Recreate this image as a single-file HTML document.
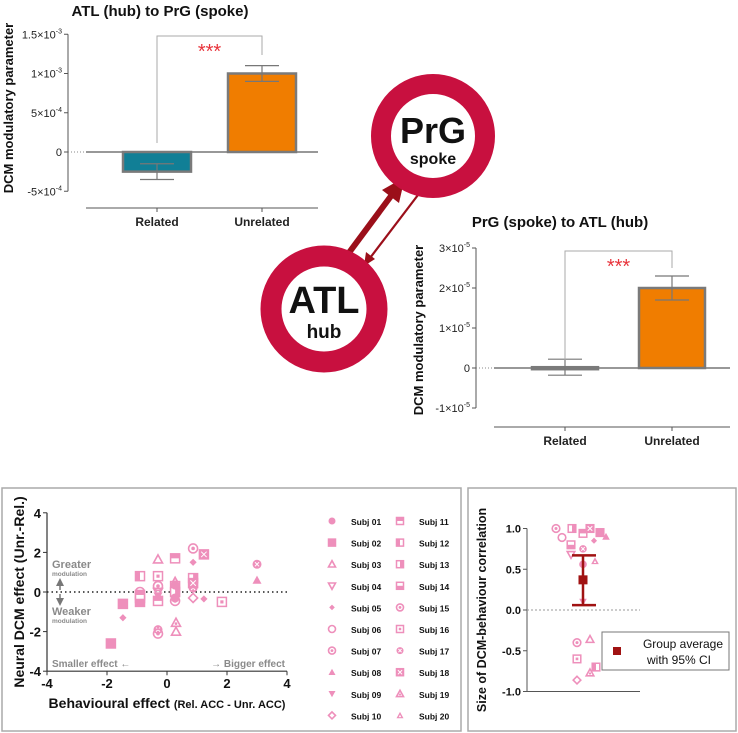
<!DOCTYPE html>
<html><head><meta charset="utf-8"><style>
html,body{margin:0;padding:0;background:#fff;}
svg{display:block;font-family:"Liberation Sans",Arial,sans-serif;}
</style></head><body>
<svg id="fig" width="738" height="733" viewBox="0 0 738 733" xmlns="http://www.w3.org/2000/svg">
<!-- Panel boxes -->
<rect x="2" y="488" width="459" height="243" fill="none" stroke="#aaa" stroke-width="1.5"/>
<rect x="468" y="488" width="268" height="243" fill="none" stroke="#aaa" stroke-width="1.5"/>

<!-- Hub / spoke diagram -->
<g>
  <line x1="348" y1="254" x2="394" y2="192" stroke="#9b0f1a" stroke-width="6"/>
  <polygon points="405,177 382,190 399,203" fill="#9b0f1a"/>
  <line x1="421" y1="191" x2="370" y2="258" stroke="#9b0f1a" stroke-width="2.2"/>
  <polygon points="364,266 366,252 375,259" fill="#9b0f1a"/>
  <circle cx="433" cy="136" r="52" fill="#fff" stroke="#c8103f" stroke-width="20"/>
  <text x="433" y="143" text-anchor="middle" font-size="36" font-weight="bold" fill="#111">PrG</text>
  <text x="433" y="164" text-anchor="middle" font-size="16" font-weight="bold" fill="#111">spoke</text>
  <circle cx="324" cy="309" r="53" fill="#fff" stroke="#c8103f" stroke-width="21"/>
  <text x="324" y="313" text-anchor="middle" font-size="38" font-weight="bold" fill="#111">ATL</text>
  <text x="324" y="338" text-anchor="middle" font-size="19" font-weight="bold" fill="#111">hub</text>
</g>

<g id="bar1"></g>
<g id="bar2"></g>
<g id="scatter"></g>
<g id="legend"></g>
<g id="corr"></g>
</svg>
<script>
// ---- Bar chart data ----
const barCategories = ["Related", "Unrelated"];
const bar1Means = [-0.25e-3, 1.0e-3];
const bar1Sem = [0.1e-3, 0.1e-3];
const bar1Ticks = [1.5e-3, 1e-3, 5e-4, 0, -5e-4];
const bar1TickLabels = [["1.5","-3"], ["1","-3"], ["5","-4"], ["0",""], ["-5","-4"]];
const bar2Means = [0.02e-5, 2.0e-5];
const bar2Sem = [0.2e-5, 0.3e-5];
const bar2Ticks = [3e-5, 2e-5, 1e-5, 0, -1e-5];
const bar2TickLabels = [["3","-5"], ["2","-5"], ["1","-5"], ["0",""], ["-1","-5"]];

// ---- Scatter data (x, y, subject) ----
const scatterX = [-0.3, 0.27, 0.87, 1.23, 0.87, 3.0, 3.0, -0.9, -0.3, -0.3, 0.27, 0.27, 0.27, 0.27, 0.87, 0.87, 0.87, 1.23, 1.83, -1.47, -0.9, -0.9, -0.9, -0.3, -0.3, 0.27, -1.47, -1.87, -0.3, -0.3, 0.3, 0.3, 0.27, 0.87, -0.9, -0.3];
const scatterY = [1.65, 1.7, 2.2, 1.9, 1.5, 1.4, 0.6, 0.8, 0.8, 0.3, 0.6, 0.3, 0.0, -0.3, 0.7, 0.2, -0.3, -0.35, -0.5, -0.6, 0.0, -0.3, -0.5, -0.2, -0.45, -0.45, -1.3, -2.6, -1.9, -2.1, -1.55, -2.0, 0.35, 0.45, -0.15, 0.0];
const scatterSubj = [3, 11, 7, 18, 5, 17, 8, 12, 16, 15, 20, 14, 13, 1, 13, 17, 10, 5, 16, 2, 6, 14, 2, 9, 11, 15, 5, 2, 17, 7, 19, 3, 1, 18, 11, 4];
const scatterXTicks = [-4, -2, 0, 2, 4];
const scatterYTicks = [4, 2, 0, -2, -4];

// ---- Correlation data ----
const corrValues = [1.0, 0.89, 1.0, 0.94, 1.0, 0.95, 0.85, 0.9, 0.8, 0.75, 0.68, 0.6, 0.56, 0.1, -0.4, -0.36, -0.6, -0.7, -0.77, -0.86];
const corrSubj = [7, 6, 13, 11, 18, 2, 5, 8, 14, 17, 4, 20, 1, 9, 15, 3, 16, 12, 19, 10];
const corrJitter = [-27, -21, -11, 0, 7, 17, 11, 23, -12, 0, -12, 12, 0, 0, -6, 7, -6, 13, 7, -6];
const corrMean = 0.37;
const corrCI = [0.06, 0.67];
const corrTicks = [1.0, 0.5, 0.0, -0.5, -1.0];

const NS = "http://www.w3.org/2000/svg";
const PINK = "#ee8fbb";
function el(parent, tag, attrs, text) {
  const e = document.createElementNS(NS, tag);
  for (const k in attrs) e.setAttribute(k, attrs[k]);
  if (text !== undefined) e.textContent = text;
  parent.appendChild(e);
  return e;
}

function barChart(g, cfg) {
  const y = v => cfg.y0 - v * cfg.scale;
  const ax = el(g, "line", {x1: cfg.axX, y1: y(cfg.ticks[0]), x2: cfg.axX, y2: y(cfg.ticks[cfg.ticks.length-1]), stroke: "#555", "stroke-width": 1});
  
  
  cfg.ticks.forEach((t, i) => {
    el(g, "line", {x1: cfg.axX - 4, y1: y(t), x2: cfg.axX, y2: y(t), stroke: "#555"});
    const tx = el(g, "text", {x: cfg.axX - 6, y: y(t) + 4, "text-anchor": "end", "font-size": 11, fill: "#222"});
    
    
    const lab = cfg.tickLabels[i];
    if (lab[1] === "") { tx.textContent = lab[0]; }
    else {
      el(tx, "tspan", {}, lab[0] + "\u00d710");
      el(tx, "tspan", {"font-size": 7, dy: -5}, lab[1]);
    }
  });
  // zero line
  el(g, "line", {x1: cfg.axX, y1: y(0), x2: cfg.plotX0, y2: y(0), stroke: "#888", "stroke-dasharray": "1,2"});
  const zl = el(g, "line", {x1: cfg.plotX0, y1: y(0), x2: cfg.plotX1, y2: y(0), stroke: "#777", "stroke-width": 1.5});
  
  
  // x axis
  const xa = el(g, "line", {x1: cfg.plotX0, y1: cfg.xAxisY, x2: cfg.plotX1, y2: cfg.xAxisY, stroke: "#555"});
  
  
  const colors = ["#117f96", "#f07d00"];
  barCategories.forEach((c, i) => {
    const cx = cfg.xs[i];
    el(g, "line", {x1: cx, y1: cfg.xAxisY, x2: cx, y2: cfg.xAxisY + 4, stroke: "#555"});
    const lt = el(g, "text", {x: cx, y: cfg.xAxisY + 18, "text-anchor": "middle", "font-size": 12, "font-weight": "bold", fill: "#222"}, c);
    
    
    const m = cfg.means[i], s = cfg.sem[i];
    const top = Math.min(y(m), y(0)), h = Math.max(Math.abs(y(m) - y(0)), 2);
    const b = el(g, "rect", {x: cx - cfg.bw/2, y: top, width: cfg.bw, height: h, fill: colors[i], stroke: "#7a7a7a", "stroke-width": 2.5});
    
    
    const e1 = y(m + s), e2 = y(m - s);
    const eb = el(g, "path", {d: `M${cx},${e1}V${e2}M${cx-17},${e1}H${cx+17}M${cx-17},${e2}H${cx+17}`, stroke: "#777", fill: "none", "stroke-width": 1.2});
    
    
  });
  const br = el(g, "path", {d: `M${cfg.xs[0]},${cfg.brLeft}V${cfg.brY}H${cfg.xs[1]}V${cfg.brRight}`, stroke: "#aaa", fill: "none"});
  
  
  const st = el(g, "text", {x: (cfg.xs[0]+cfg.xs[1])/2, y: cfg.brY + 22, "text-anchor": "middle", "font-size": 20, fill: "#e8343c"}, "***");
  
  
  const ti = el(g, "text", {x: cfg.titleX, y: cfg.titleY, "text-anchor": "middle", "font-size": 15, "font-weight": "bold", fill: "#111"}, cfg.title);
  
  
  const yt = el(g, "text", {x: 0, y: 0, transform: `translate(${cfg.ylabX},${cfg.ylabY}) rotate(-90)`, "text-anchor": "middle", "font-size": 13, "font-weight": "bold", fill: "#111"}, "DCM modulatory parameter");
  
  
}

barChart(document.getElementById("bar1"), {y0: 152, scale: 78.5 / 1e-3, axX: 68, plotX0: 86, plotX1: 318, xAxisY: 208, xs: [157, 262], bw: 68,
  means: bar1Means, sem: bar1Sem, ticks: bar1Ticks, tickLabels: bar1TickLabels, brY: 36, brLeft: 143, brRight: 55,
  title: "ATL (hub) to PrG (spoke)", titleX: 160, titleY: 16, ylabX: 13, ylabY: 108});
barChart(document.getElementById("bar2"), {y0: 368, scale: 40 / 1e-5, axX: 476, plotX0: 494, plotX1: 730, xAxisY: 427, xs: [565, 672], bw: 66,
  means: bar2Means, sem: bar2Sem, ticks: bar2Ticks, tickLabels: bar2TickLabels, brY: 251, brLeft: 360, brRight: 268,
  title: "PrG (spoke) to ATL (hub)", titleX: 560, titleY: 227, ylabX: 423, ylabY: 330});

// ---- Markers ----
function marker(g, s, x, y, r) {
  const c = PINK;
  const grp = el(g, "g", {});
  const tri = (up) => up ? `${x},${y-r} ${x+r},${y+r*0.8} ${x-r},${y+r*0.8}` : `${x},${y+r} ${x+r},${y-r*0.8} ${x-r},${y-r*0.8}`;
  const sq = (f) => el(grp, "rect", {x: x-r, y: y-r, width: 2*r, height: 2*r, fill: f ? c : "#fff", stroke: c, "stroke-width": 1.5});
  switch (s) {
    case 1: el(grp, "circle", {cx: x, cy: y, r: r, fill: c}); break;
    case 2: sq(true); break;
    case 3: el(grp, "polygon", {points: tri(true), fill: "none", stroke: c, "stroke-width": 1.6}); break;
    case 4: el(grp, "polygon", {points: tri(false), fill: "none", stroke: c, "stroke-width": 1.6}); break;
    case 5: el(grp, "polygon", {points: `${x},${y-r*0.8} ${x+r*0.8},${y} ${x},${y+r*0.8} ${x-r*0.8},${y}`, fill: c}); break;
    case 6: el(grp, "circle", {cx: x, cy: y, r: r, fill: "none", stroke: c, "stroke-width": 1.6}); break;
    case 7: case 15: el(grp, "circle", {cx: x, cy: y, r: r, fill: "none", stroke: c, "stroke-width": 1.6}); el(grp, "circle", {cx: x, cy: y, r: r*0.4, fill: c}); break;
    case 8: el(grp, "polygon", {points: tri(true), fill: c}); break;
    case 9: el(grp, "polygon", {points: tri(false), fill: c}); break;
    case 10: el(grp, "polygon", {points: `${x},${y-r} ${x+r},${y} ${x},${y+r} ${x-r},${y}`, fill: "none", stroke: c, "stroke-width": 1.6}); break;
    case 11: sq(false); el(grp, "rect", {x: x-r, y: y-r, width: 2*r, height: r, fill: c}); break;
    case 12: sq(false); el(grp, "rect", {x: x-r, y: y-r, width: r, height: 2*r, fill: c}); break;
    case 13: sq(false); el(grp, "rect", {x: x, y: y-r, width: r, height: 2*r, fill: c}); break;
    case 14: sq(false); el(grp, "rect", {x: x-r, y: y, width: 2*r, height: r, fill: c}); break;
    case 16: sq(false); el(grp, "rect", {x: x-r*0.35, y: y-r*0.35, width: r*0.7, height: r*0.7, fill: c}); break;
    case 17: el(grp, "circle", {cx: x, cy: y, r: r, fill: c}); el(grp, "path", {d: `M${x-r*0.45},${y-r*0.45}L${x+r*0.45},${y+r*0.45}M${x+r*0.45},${y-r*0.45}L${x-r*0.45},${y+r*0.45}`, stroke: "#fff", "stroke-width": 1}); break;
    case 18: sq(true); el(grp, "path", {d: `M${x-r*0.6},${y-r*0.6}L${x+r*0.6},${y+r*0.6}M${x+r*0.6},${y-r*0.6}L${x-r*0.6},${y+r*0.6}`, stroke: "#fff", "stroke-width": 1}); break;
    case 19: el(grp, "polygon", {points: tri(true), fill: "none", stroke: c, "stroke-width": 1.6}); el(grp, "circle", {cx: x, cy: y+r*0.2, r: r*0.3, fill: c}); break;
    case 20: el(grp, "polygon", {points: tri(true), fill: c}); el(grp, "polygon", {points: `${x},${y-r*0.2} ${x+r*0.35},${y+r*0.5} ${x-r*0.35},${y+r*0.5}`, fill: "#fff"}); break;
  }
  return grp;
}

// ---- Scatter ----
(function(){
  const g = document.getElementById("scatter");
  const sx = v => 167 + v * 30, sy = v => 592 - v * 19.8;
  const ya = el(g, "line", {x1: 47, y1: sy(4), x2: 47, y2: sy(-4), stroke: "#333", "stroke-width": 1.2});
  
  
  const xa = el(g, "line", {x1: 47, y1: sy(-4), x2: 287, y2: sy(-4), stroke: "#333", "stroke-width": 1.2});
  
  
  scatterYTicks.forEach(t => {
    el(g, "line", {x1: 43, y1: sy(t), x2: 47, y2: sy(t), stroke: "#333"});
    const tx = el(g, "text", {x: 41, y: sy(t) + 5, "text-anchor": "end", "font-size": 13, "font-weight": "bold", fill: "#111"}, String(t));
    
    
  });
  scatterXTicks.forEach(t => {
    el(g, "line", {x1: sx(t), y1: sy(-4), x2: sx(t), y2: sy(-4) + 4, stroke: "#333"});
    const tx = el(g, "text", {x: sx(t), y: sy(-4) + 17, "text-anchor": "middle", "font-size": 13, "font-weight": "bold", fill: "#111"}, String(t));
    
    
  });
  const zl = el(g, "line", {x1: 47, y1: sy(0), x2: 287, y2: sy(0), stroke: "#222", "stroke-width": 1.6, "stroke-dasharray": "1.5,3"});
  
  
  scatterX.forEach((v, i) => {
    const m = marker(g, scatterSubj[i], sx(v), sy(scatterY[i]), 4.5);
    
    
  });
  const yt = el(g, "text", {transform: "translate(24,592) rotate(-90)", "text-anchor": "middle", "font-size": 14, "font-weight": "bold", fill: "#111"}, "Neural DCM effect (Unr.-Rel.)");
  
  
  const xt = el(g, "text", {x: 167, y: 708, "text-anchor": "middle", "font-size": 14, "font-weight": "bold", fill: "#111"});
  
  
  el(xt, "tspan", {}, "Behavioural effect ");
  el(xt, "tspan", {"font-size": 11}, "(Rel. ACC - Unr. ACC)");
  const gray = "#8a8a8a";
  const a1 = el(g, "text", {x: 52, y: 568, "font-size": 11, "font-weight": "bold", fill: gray}, "Greater");
  
  
  el(g, "text", {x: 52, y: 576, "font-size": 6.5, "font-weight": "bold", fill: gray}, "modulation");
  el(g, "polygon", {points: "60,578 56,586 64,586", fill: "#777"});
  el(g, "line", {x1: 60, y1: 586, x2: 60, y2: 590, stroke: "#777", "stroke-width": 1.5});
  el(g, "polygon", {points: "60,606 56,598 64,598", fill: "#777"});
  el(g, "line", {x1: 60, y1: 594, x2: 60, y2: 598, stroke: "#777", "stroke-width": 1.5});
  const a2 = el(g, "text", {x: 52, y: 615, "font-size": 11, "font-weight": "bold", fill: gray}, "Weaker");
  
  
  el(g, "text", {x: 52, y: 623, "font-size": 6.5, "font-weight": "bold", fill: gray}, "modulation");
  const a3 = el(g, "text", {x: 52, y: 667, "font-size": 10, "font-weight": "bold", fill: gray}, "Smaller effect \u2190");
  
  
  const a4 = el(g, "text", {x: 285, y: 667, "text-anchor": "end", "font-size": 10, "font-weight": "bold", fill: gray}, "\u2192 Bigger effect");
  
  
})();

// ---- Legend ----
(function(){
  const g = document.getElementById("legend");
  for (let s = 1; s <= 20; s++) {
    const col = s <= 10 ? 0 : 1, row = (s - 1) % 10;
    const x = 332 + col * 68, y = 521 + row * 21.6;
    const e = el(g, "g", {});
    
    
    marker(e, s, x, y, 3.5);
    el(e, "text", {x: x + 19, y: y + 4, "font-size": 8.5, "font-weight": "bold", fill: "#111"}, "Subj " + String(s).padStart(2, "0"));
  }
})();

// ---- Correlation chart ----
(function(){
  const g = document.getElementById("corr");
  const cy = v => 610 - v * 81.5, cx = 583;
  const ya = el(g, "line", {x1: 527, y1: cy(1), x2: 527, y2: cy(-1), stroke: "#555"});
  
  
  const xa = el(g, "line", {x1: 527, y1: cy(-1), x2: 640, y2: cy(-1), stroke: "#555"});
  
  
  corrTicks.forEach(t => {
    el(g, "line", {x1: 523, y1: cy(t), x2: 527, y2: cy(t), stroke: "#555"});
    const tx = el(g, "text", {x: 521, y: cy(t) + 4, "text-anchor": "end", "font-size": 11, "font-weight": "bold", fill: "#111"}, t.toFixed(1));
    
    
  });
  const zl = el(g, "line", {x1: 527, y1: cy(0), x2: 640, y2: cy(0), stroke: "#999", "stroke-dasharray": "2,2"});
  
  
  corrValues.forEach((v, i) => {
    const m = marker(g, corrSubj[i], cx + corrJitter[i], cy(v), 3.8);
    
    
  });
  const dr = "#a01212";
  const ci = el(g, "path", {d: `M${cx},${cy(corrCI[0])}V${cy(corrCI[1])}M${cx-11},${cy(corrCI[0])}H${cx+13}M${cx-11},${cy(corrCI[1])}H${cx+13}`, stroke: dr, "stroke-width": 2.5, fill: "none"});
  
  
  const mm = el(g, "rect", {x: cx - 4.5, y: cy(corrMean) - 4.5, width: 9, height: 9, fill: dr});
  
  
  const yt = el(g, "text", {transform: "translate(486,610) rotate(-90)", "text-anchor": "middle", "font-size": 12.5, "font-weight": "bold", fill: "#111"}, "Size of DCM-behaviour correlation");
  
  
  const lg = el(g, "g", {});
  
  
  el(lg, "rect", {x: 602, y: 632, width: 127, height: 38, fill: "#fff", stroke: "#777"});
  el(lg, "rect", {x: 613, y: 647, width: 8, height: 8, fill: dr});
  el(lg, "text", {x: 683, y: 648, "text-anchor": "middle", "font-size": 12, fill: "#111"}, "Group average");
  el(lg, "text", {x: 679, y: 664, "text-anchor": "middle", "font-size": 12, fill: "#111"}, "with 95% CI");
})();
</script>
</body></html>
